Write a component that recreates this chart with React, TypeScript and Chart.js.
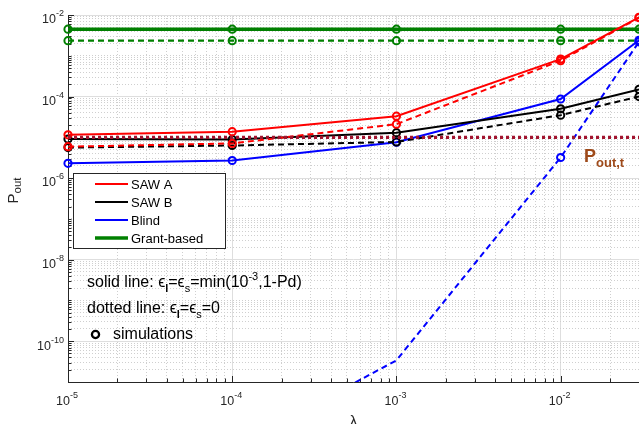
import React, { useEffect, useRef } from 'react';
import { Chart, registerables } from 'chart.js';

Chart.register(...registerables);

// ---------- data ----------
const lambdas = [1e-5, 1e-4, 1e-3, 1e-2, 3e-2];
const sawASolid = [1.15e-5, 1.38e-5, 3.3e-5, 8.3e-4, 8.8e-3];
const sawADashed = [5.9e-6, 7.1e-6, 2.1e-5, 7.6e-4, 8.6e-3];
const sawBSolid = [9.1e-6, 8.9e-6, 1.3e-5, 5.0e-5, 1.5e-4];
const sawBDashed = [5.6e-6, 6.3e-6, 7.7e-6, 3.5e-5, 1.0e-4];
const blindSolid = [2.3e-6, 2.7e-6, 7.6e-6, 8.7e-5, 2.4e-3];
const blindDashed = [1e-15, 2.3e-13, 3.4e-11, 3.2e-6, 2.2e-3];
const grantSolid = [4.5e-3, 4.5e-3, 4.5e-3, 4.5e-3, 4.5e-3];
const grantDashed = [2.35e-3, 2.35e-3, 2.35e-3, 2.35e-3, 2.35e-3];
const pOutThreshold = [1e-5, 1e-5, 1e-5, 1e-5, 1e-5];

const xRange = [1e-5, 3e-2];
const yRange = [1e-11, 1e-2];
const xTickExponents = [-5, -4, -3, -2];
const yTickExponents = [-10, -8, -6, -4, -2];
const xLabelGridExponents = [-5, -4, -3, -2];
const yLabelGridExponents = [-10, -8, -6, -4, -2];

const legendLabels = ['SAW A', 'SAW B', 'Blind', 'Grant-based'];
const legendColors = ['#ff0000', '#000000', '#0000ff', '#008000'];
const legendWidths = [2, 2, 2, 3.5];

const FONT = "'Liberation Sans', Arial, Helvetica, sans-serif";
const AXIS = '#262626';

type Seg = { t: string; size: number; dy?: number; bold?: boolean };

function segWidth(ctx: CanvasRenderingContext2D, segs: Seg[]) {
  let w = 0;
  for (const s of segs) {
    ctx.font = `${s.bold ? 'bold ' : ''}${s.size}px ${FONT}`;
    w += ctx.measureText(s.t).width;
  }
  return w;
}

function drawSegs(ctx: CanvasRenderingContext2D, segs: Seg[], x: number, y: number) {
  let cx = x;
  for (const s of segs) {
    ctx.font = `${s.bold ? 'bold ' : ''}${s.size}px ${FONT}`;
    ctx.fillText(s.t, cx, y + (s.dy || 0));
    cx += ctx.measureText(s.t).width;
  }
}

function powLabel(e: number): Seg[] {
  return [
    { t: '10', size: 12.5 },
    { t: String(e), size: 9, dy: -7 },
  ];
}

function buildLogTicks(min: number, max: number, majorExps: number[]) {
  const ticks: { value: number; major: boolean }[] = [];
  const e0 = Math.floor(Math.log10(min) + 1e-9);
  const e1 = Math.ceil(Math.log10(max) - 1e-9);
  for (let e = e0; e <= e1; e++) {
    for (let k = 1; k <= 9; k++) {
      const v = parseFloat((k * Math.pow(10, e)).toPrecision(6));
      if (v < min * 0.999 || v > max * 1.001) continue;
      ticks.push({ value: v, major: k === 1 && majorExps.includes(e) });
    }
  }
  return ticks;
}

function pts(arr: number[]) {
  return lambdas.map((x, i) => ({ x, y: arr[i] }));
}

const overlayPlugin = {
  id: 'overlay',
  beforeDatasetsDraw(chart: any) {
    const { ctx, chartArea: a, scales } = chart;
    const xs = scales.x;
    const ys = scales.y;
    ctx.save();
    ctx.strokeStyle = AXIS;
    ctx.lineWidth = 1;
    ctx.beginPath();
    for (const t of ys.ticks) {
      const py = Math.round(ys.getPixelForValue(t.value)) + 0.5;
      const len = t.major ? 6 : 3.5;
      ctx.moveTo(a.left, py);
      ctx.lineTo(a.left + len, py);
    }
    for (const t of xs.ticks) {
      const px = Math.round(xs.getPixelForValue(t.value)) + 0.5;
      const len = t.major ? 6 : 3.5;
      ctx.moveTo(px, a.bottom);
      ctx.lineTo(px, a.bottom - len);
    }
    ctx.stroke();
    ctx.beginPath();
    ctx.moveTo(a.left + 0.5, a.top);
    ctx.lineTo(a.left + 0.5, a.bottom + 0.5);
    ctx.lineTo(a.right, a.bottom + 0.5);
    ctx.stroke();
    ctx.restore();
  },
  afterDraw(chart: any) {
    const { ctx, chartArea: a, scales } = chart;
    const xs = scales.x;
    const ys = scales.y;
    ctx.save();
    ctx.fillStyle = AXIS;
    ctx.textBaseline = 'alphabetic';
    ctx.textAlign = 'left';
    // x tick labels
    for (const e of xTickExponents) {
      const px = xs.getPixelForValue(Math.pow(10, e));
      const segs = powLabel(e);
      const w = segWidth(ctx, segs);
      drawSegs(ctx, segs, px - w / 2 - 1, a.bottom + 23);
    }
    // y tick labels
    for (const e of yTickExponents) {
      const py = ys.getPixelForValue(Math.pow(10, e));
      const segs = powLabel(e);
      const w = segWidth(ctx, segs);
      drawSegs(ctx, segs, a.left - 4 - w, py + 8.3);
    }
    // x title
    ctx.font = `15px ${FONT}`;
    ctx.textAlign = 'center';
    ctx.fillText('\u03bb', (a.left + a.right) / 2, 426);
    ctx.textAlign = 'left';
    // y title
    ctx.save();
    ctx.translate(18, (a.top + a.bottom) / 2 - 8);
    ctx.rotate(-Math.PI / 2);
    const ySegs: Seg[] = [
      { t: 'P', size: 15 },
      { t: 'out', size: 11.5, dy: 3 },
    ];
    const yw = segWidth(ctx, ySegs);
    drawSegs(ctx, ySegs, -yw / 2, 0);
    ctx.restore();

    // legend
    const lx = 73.5, ly = 173.5, lw = 152, lh = 75;
    ctx.fillStyle = '#ffffff';
    ctx.fillRect(lx, ly, lw, lh);
    ctx.strokeStyle = AXIS;
    ctx.lineWidth = 1;
    ctx.strokeRect(lx, ly, lw, lh);
    legendLabels.forEach((lab, i) => {
      const cy = 184 + i * 18;
      ctx.strokeStyle = legendColors[i];
      ctx.lineWidth = legendWidths[i];
      ctx.beginPath();
      ctx.moveTo(95, cy);
      ctx.lineTo(128, cy);
      ctx.stroke();
      ctx.fillStyle = '#000';
      ctx.font = `13px ${FONT}`;
      ctx.fillText(lab, 131, cy + 4.5);
    });

    // annotations
    ctx.fillStyle = '#000';
    drawSegs(ctx, [
      { t: 'solid line: ', size: 16 },
      { t: '\u03f5', size: 16 },
      { t: 'l', size: 11, dy: 5, bold: true },
      { t: '=', size: 16 },
      { t: '\u03f5', size: 16 },
      { t: 's', size: 11, dy: 5 },
      { t: '=min(10', size: 16 },
      { t: '-3', size: 11, dy: -7 },
      { t: ',1-Pd)', size: 16 },
    ], 87, 286.5);
    drawSegs(ctx, [
      { t: 'dotted line: ', size: 16 },
      { t: '\u03f5', size: 16 },
      { t: 'l', size: 11, dy: 5, bold: true },
      { t: '=', size: 16 },
      { t: '\u03f5', size: 16 },
      { t: 's', size: 11, dy: 5 },
      { t: '=0', size: 16 },
    ], 87, 313);
    ctx.strokeStyle = '#000';
    ctx.lineWidth = 2.3;
    ctx.beginPath();
    ctx.arc(95.5, 334.5, 3.6, 0, Math.PI * 2);
    ctx.stroke();
    drawSegs(ctx, [{ t: 'simulations', size: 16 }], 113, 339);

    // threshold label
    ctx.fillStyle = '#9e4a1a';
    drawSegs(ctx, [
      { t: 'P', size: 18, bold: true },
      { t: 'out,t', size: 13, dy: 5, bold: true },
    ], 584, 162);
    ctx.restore();
  },
};

function lineDs(label: string, arr: number[], color: string, width: number, dash: number[], extra: any = {}) {
  return {
    label,
    data: pts(arr),
    borderColor: color,
    backgroundColor: 'rgba(0,0,0,0)',
    borderWidth: width,
    borderDash: dash,
    pointRadius: 3.6,
    pointBorderWidth: 2,
    pointBorderColor: color,
    pointBackgroundColor: 'rgba(0,0,0,0)',
    pointStyle: 'circle',
    tension: 0,
    fill: false,
    clip: 8,
    ...extra,
  };
}

export default function App() {
  const ref = useRef<HTMLCanvasElement | null>(null);
  useEffect(() => {
    if (!ref.current) return;
    const gridColor = (c: any) => (c.tick && c.tick.major ? '#dedede' : '#cfcfcf');
    const gridDash = (c: any) => (c.tick && c.tick.major ? [] : [1, 2]);
    const datasets = [
      lineDs('Pout,t', pOutThreshold, '#a2142f', 3.2, [3, 3], { pointRadius: 0, borderCapStyle: 'butt' }),
      lineDs('SAW A', sawASolid, '#ff0000', 2, []),
      lineDs('SAW A dashed', sawADashed, '#ff0000', 2, [6, 4]),
      lineDs('SAW B', sawBSolid, '#000000', 2, []),
      lineDs('SAW B dashed', sawBDashed, '#000000', 2, [6, 4]),
      lineDs('Blind', blindSolid, '#0000ff', 2, []),
      lineDs('Blind dashed', blindDashed, '#0000ff', 2, [6, 4], {
        pointRadius: [0, 0, 0, 3.6, 3.6],
        clip: { left: 8, top: 8, right: 8, bottom: 0 },
      }),
      lineDs('Grant-based', grantSolid, '#008000', 3.5, []),
      lineDs('Grant-based dashed', grantDashed, '#008000', 2.2, [6, 4]),
    ];
    const chart = new Chart(ref.current, {
      type: 'line',
      data: { datasets } as any,
      options: {
        animation: false,
        responsive: false,
        devicePixelRatio: 1,
        events: [],
        layout: { autoPadding: false, padding: { top: 15, right: 0, left: 0, bottom: 0 } },
        plugins: { legend: { display: false }, tooltip: { enabled: false } },
        scales: {
          x: {
            type: 'logarithmic',
            min: xRange[0],
            max: xRange[1],
            afterBuildTicks: (s: any) => {
              s.ticks = buildLogTicks(xRange[0], xRange[1], xLabelGridExponents);
            },
            afterFit: (s: any) => {
              s.height = 42;
            },
            ticks: { display: false },
            grid: { color: gridColor, lineWidth: 1, drawTicks: false },
            border: { display: false, dash: gridDash },
          },
          y: {
            type: 'logarithmic',
            min: yRange[0],
            max: yRange[1],
            afterBuildTicks: (s: any) => {
              s.ticks = buildLogTicks(yRange[0], yRange[1], yLabelGridExponents);
            },
            afterFit: (s: any) => {
              s.width = 68;
            },
            ticks: { display: false },
            grid: { color: gridColor, lineWidth: 1, drawTicks: false },
            border: { display: false, dash: gridDash },
          },
        },
      } as any,
      plugins: [overlayPlugin],
    });
    return () => chart.destroy();
  }, []);
  return (
    <div style={{ position: 'absolute', left: 0, top: 0, width: 639, height: 424, background: '#fff' }}>
      <canvas ref={ref} width={639} height={424} style={{ display: 'block', width: 639, height: 424 }} />
    </div>
  );
}
